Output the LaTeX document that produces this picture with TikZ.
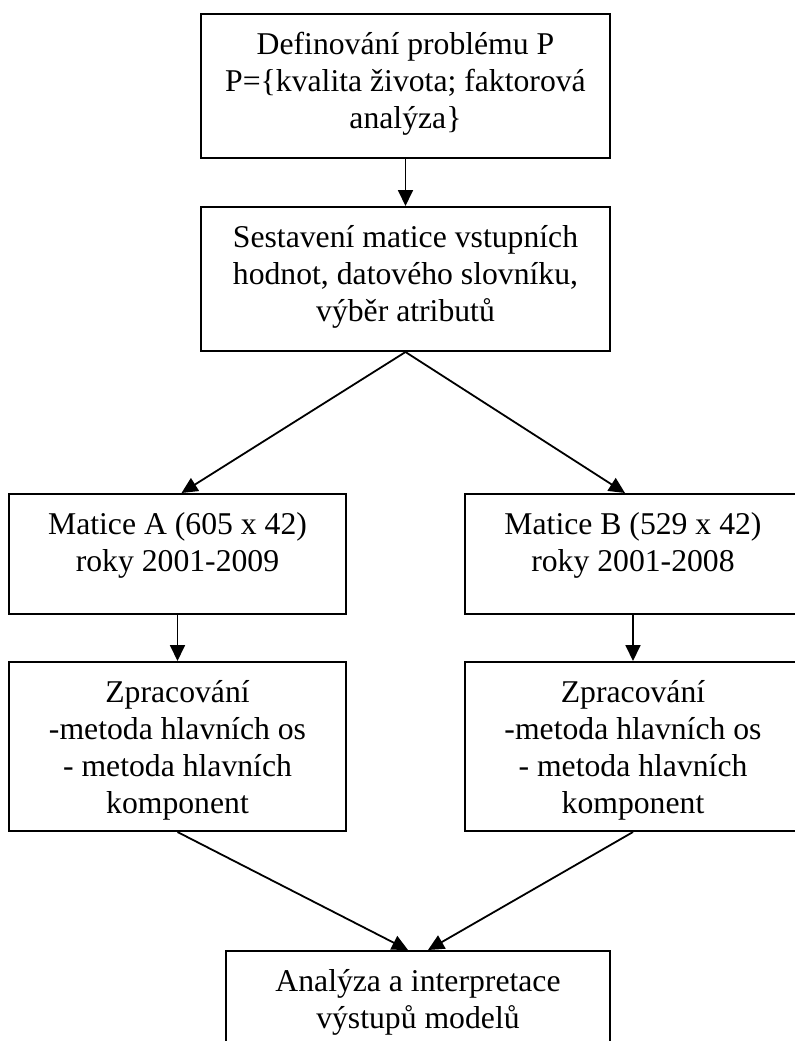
\documentclass[tikz,border=0pt]{standalone}
\usepackage{fontspec}
\setmainfont{Liberation Serif}
\usetikzlibrary{arrows.meta}

% texto del cuadro: ancho, alto, lineas (arriba alineado)
\newcommand{\boxtxt}[3]{\parbox[c][#2][t]{#1}{\centering\rule{0pt}{20pt}#3}}

\begin{document}
\begin{tikzpicture}[x=0.5pt,y=-0.5pt,
  every node/.style={draw=black,line width=1pt,inner sep=0pt,font=\fontsize{15.85pt}{18.5pt}\selectfont},
  arr/.style={-{Triangle[length=8pt,width=7.5pt]},line width=0.9pt}]
  \useasboundingbox (0,0) rectangle (795,1041);

  % Definicion del problema
  \node (prob) at (405.5,86) {\boxtxt{204.5pt}{72pt}{Definování problému P\\ P=\{kvalita života; faktorová\\ analýza\}}};
  \node (sest) at (405.5,279) {\boxtxt{204.5pt}{72pt}{Sestavení matice vstupních\\ hodnot, datového slovníku,\\ výběr atributů}};

  % Matices A y B
  \node (matA) at (177.5,554) {\boxtxt{168.5pt}{60pt}{Matice A (605 x 42)\\ roky 2001-2009}};
  \node (matB) at (633,554) {\boxtxt{168.5pt}{60pt}{Matice B (529 x 42)\\ roky 2001-2008}};

  % Procesamiento
  \node (zpcA) at (177.5,746.5) {\boxtxt{168.5pt}{84.5pt}{Zpracování\\ -metoda hlavních os\\ - metoda hlavních\\ komponent}};
  \node (zpcB) at (633,746.5) {\boxtxt{168.5pt}{84.5pt}{Zpracování\\ -metoda hlavních os\\ - metoda hlavních\\ komponent}};

  % Analisis final
  \node (anal) at (418,1011) {\boxtxt{192pt}{60pt}{Analýza a interpretace\\ výstupů modelů}};

  % Flechas
  \draw[arr] (prob.south) -- (sest.north);
  \draw[arr] (sest.south) -- ([xshift=2pt]matA.north);
  \draw[arr] (sest.south) -- ([xshift=-4pt]matB.north);
  \draw[arr] (matA.south) -- (zpcA.north);
  \draw[arr] (matB.south) -- (zpcB.north);
  \draw[arr] (zpcA.south) -- ([xshift=-5pt]anal.north);
  \draw[arr] (zpcB.south) -- ([xshift=5pt]anal.north);
\end{tikzpicture}
\end{document}
